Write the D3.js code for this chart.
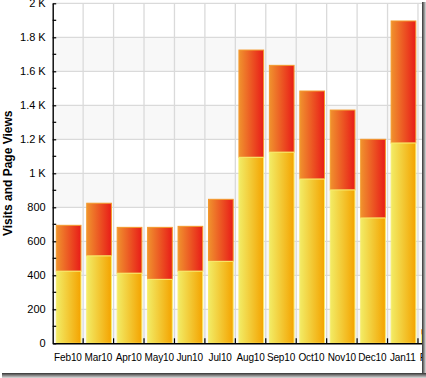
<!DOCTYPE html>
<html><head><meta charset="utf-8">
<script src="https://cdn.jsdelivr.net/npm/d3@7"></script>
<style>body{margin:0;background:#fff;}svg{display:block;font-family:"Liberation Sans",Arial,sans-serif;}</style>
</head><body><svg id="c" width="426" height="378"></svg>
<script>
const months = ["Feb10","Mar10","Apr10","May10","Jun10","Jul10","Aug10","Sep10","Oct10","Nov10","Dec10","Jan11","Feb11"];
const visits = [424,514,412,376,424,482,1094,1124,966,902,737,1178,50];
const totalViews = [694,824,682,682,688,847,1725,1635,1484,1372,1200,1896,80];
const yTickValues = [0,200,400,600,800,1000,1200,1400,1600,1800,2000];
const yTickLabels = ["0","200","400","600","800","1 K","1.2 K","1.4 K","1.6 K","1.8 K","2 K"];
const yTitle = "Visits and Page Views";

(function(){
const svg = d3.select("#c");
const W = 422, H = 373;
const left = 52.7, bottom = 343.3, topY = 3.3;
const step = 30.44;

const defs = svg.append("defs");
function grad(id, c1, c2){
  const g = defs.append("linearGradient").attr("id", id).attr("x1","0").attr("x2","1").attr("y1","0").attr("y2","0");
  g.append("stop").attr("offset","0").attr("stop-color",c1);
  g.append("stop").attr("offset","1").attr("stop-color",c2);
}
grad("gVis","#f2ec66","#f4a300");
grad("gPv","#f0922e","#e81c18");
const sg = defs.append("linearGradient").attr("id","shR").attr("x1","0").attr("x2","1");
sg.append("stop").attr("offset","0").attr("stop-color","#333");
sg.append("stop").attr("offset","1").attr("stop-color","#ddd");
const sg2 = defs.append("linearGradient").attr("id","shB").attr("x1","0").attr("x2","0").attr("y1","0").attr("y2","1");
sg2.append("stop").attr("offset","0").attr("stop-color","#333");
sg2.append("stop").attr("offset","1").attr("stop-color","#ddd");
defs.append("clipPath").attr("id","clip").append("rect").attr("x",0).attr("y",0).attr("width",W).attr("height",H);

// shadow
svg.append("rect").attr("x",W).attr("y",2).attr("width",426-W).attr("height",H-2+5).attr("fill","url(#shR)");
svg.append("rect").attr("x",2).attr("y",H).attr("width",W-2+4).attr("height",378-H).attr("fill","url(#shB)");

const g = svg.append("g").attr("clip-path","url(#clip)");
g.append("rect").attr("x",0).attr("y",0).attr("width",W).attr("height",H).attr("fill","#fff");

const x = d3.scaleBand().domain(months).range([left, left + step*months.length]).padding(0);
const y = d3.scaleLinear().domain([0,2000]).range([bottom, topY]);

// alternating bands
const bands = [[0,200],[400,600],[800,1000],[1200,1400],[1600,1800]];
g.selectAll("rect.band").data(bands).join("rect").attr("class","band")
  .attr("x",left).attr("width",W-left).attr("y",d=>y(d[1])).attr("height",d=>y(d[0])-y(d[1])).attr("fill","#f8f8f8");

// grid
g.selectAll("line.hg").data(yTickValues.slice(1)).join("line").attr("class","hg")
  .attr("x1",left).attr("x2",W).attr("y1",d=>y(d)).attr("y2",d=>y(d)).attr("stroke","#dadada").attr("stroke-width",1.3);
g.selectAll("line.vg").data(months.slice(1)).join("line").attr("class","vg")
  .attr("x1",d=>x(d)).attr("x2",d=>x(d)).attr("y1",topY).attr("y2",bottom).attr("stroke","#dadada").attr("stroke-width",1.3);

// bars
const off = 3.6, bw = 24.7;
const data = months.map((m,i)=>({m, v:visits[i], t:totalViews[i]}));
g.selectAll("rect.pv").data(data).join("rect").attr("class","pv")
  .attr("x",d=>x(d.m)+off).attr("width",bw).attr("y",d=>y(d.t)).attr("height",d=>y(d.v)-y(d.t))
  .attr("fill","url(#gPv)").attr("stroke","#f39a2c").attr("stroke-width",1);
g.selectAll("rect.vis").data(data).join("rect").attr("class","vis")
  .attr("x",d=>x(d.m)+off).attr("width",bw).attr("y",d=>y(d.v)).attr("height",d=>bottom-y(d.v))
  .attr("fill","url(#gVis)").attr("stroke","#f8ec70").attr("stroke-width",1);

// y axis
const yAxis = d3.axisLeft(y).tickValues(yTickValues).tickFormat((d,i)=>yTickLabels[i]).tickSizeInner(-3.5).tickSizeOuter(0).tickPadding(7);
const ya = g.append("g").attr("transform",`translate(${left},0)`).call(yAxis);
ya.selectAll("text").attr("font-size",11).attr("fill","#000").attr("font-family","Liberation Sans, Arial, sans-serif");
ya.select(".domain").attr("stroke","#000").attr("stroke-width",1.4);
ya.selectAll(".tick line").attr("stroke","#000").attr("stroke-width",1.2);
const minor = d3.range(100,2000,200);
g.selectAll("line.mt").data(minor).join("line").attr("class","mt")
  .attr("x1",left).attr("x2",left+3.5).attr("y1",d=>y(d)).attr("y2",d=>y(d)).attr("stroke","#000").attr("stroke-width",1.2);

// x axis
const xa = g.append("g").attr("transform",`translate(0,${bottom})`)
  .call(d3.axisBottom(x).tickSize(0).tickPadding(11));
xa.select(".domain").attr("stroke","#000").attr("stroke-width",1.4);
xa.selectAll("text").attr("font-size",10).attr("letter-spacing","-0.15").attr("fill","#000").attr("font-family","Liberation Sans, Arial, sans-serif");
g.selectAll("line.xt").data(months.slice(1)).join("line").attr("class","xt")
  .attr("x1",d=>x(d)).attr("x2",d=>x(d)).attr("y1",bottom).attr("y2",bottom-5).attr("stroke","#000").attr("stroke-width",1.2);

// title
g.append("text").attr("transform",`translate(12,${(topY+bottom)/2}) rotate(-90)`)
  .attr("text-anchor","middle").attr("font-size",12).attr("font-weight","bold").text(yTitle);
})();
</script></body></html>
